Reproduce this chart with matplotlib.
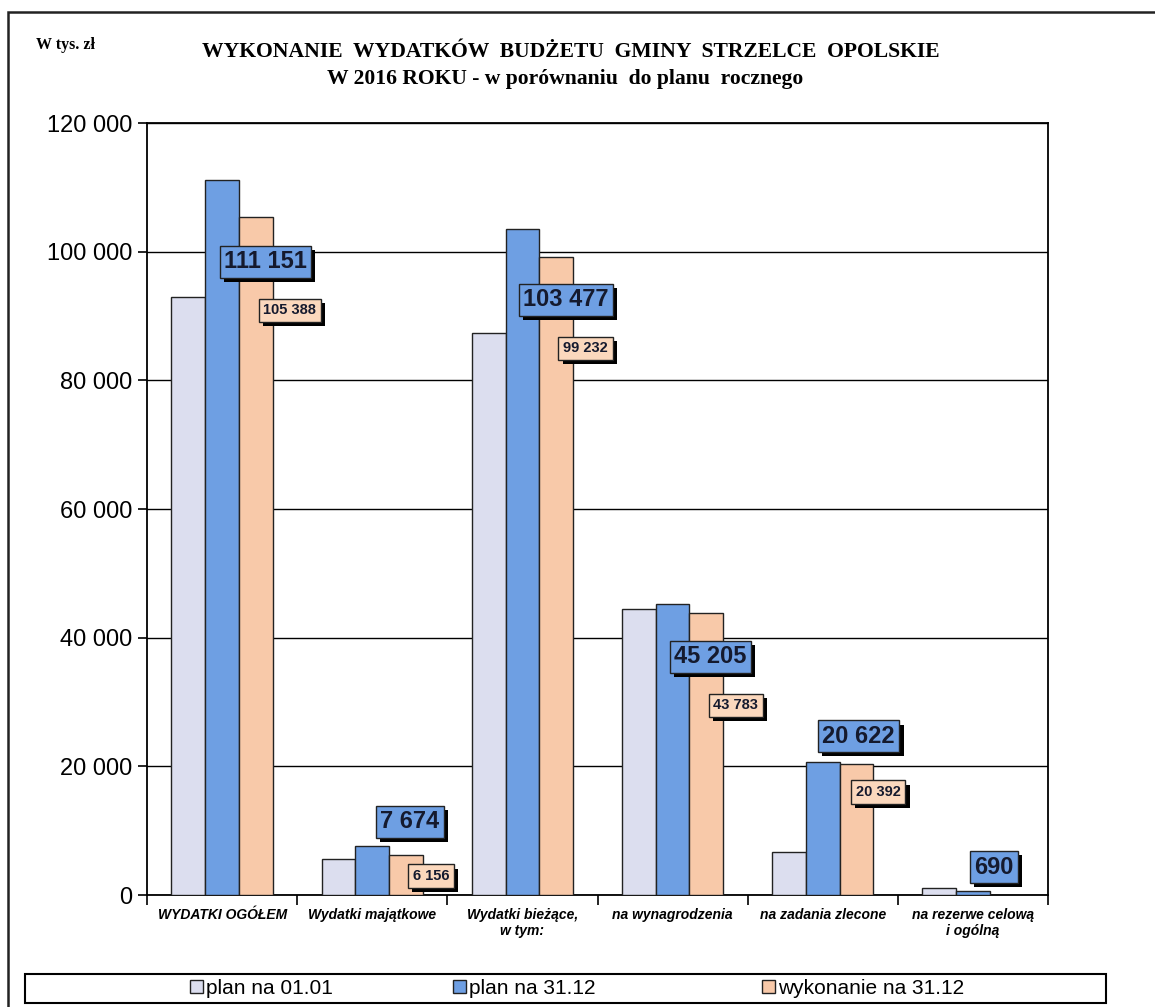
import numpy as np
import matplotlib.pyplot as plt
import matplotlib.patheffects as pe
from matplotlib.patches import Rectangle, Patch
from matplotlib.ticker import FuncFormatter

# data (w tys. zl)
categories = ['WYDATKI OGÓŁEM', 'Wydatki majątkowe', 'Wydatki bieżące,\nw tym:',
              'na wynagrodzenia', 'na zadania zlecone', 'na rezerwe celową\ni ogólną']
plan_0101 = [93000, 5600, 87400, 44500, 6700, 1050]
plan_3112 = [111151, 7674, 103477, 45205, 20622, 690]
wykonanie = [105388, 6156, 99232, 43783, 20392, 0]
series_names = ['plan na 01.01', 'plan na 31.12', 'wykonanie na 31.12']
y_ticks = [0, 20000, 40000, 60000, 80000, 100000, 120000]

# label placement (data coords), placed by hand like in the original
blue_lbl_pos = [(0.29, 98400), (1.25, 11350), (2.29, 92500), (3.25, 37000), (4.24, 24700), (5.14, 4350)]
orange_lbl_pos = [(0.45, 90900), (1.39, 2950), (2.42, 85000), (3.42, 29500), (4.37, 16000)]

c_gray = '#dcdeef'
c_blue = '#6e9fe3'
c_orange = '#f8c9a9'
colors = [c_gray, c_blue, c_orange]

fig = plt.figure(figsize=(11.55, 10.07), dpi=100)
ax = fig.add_axes([147/1155, 112/1007, 901/1155, 772/1007])

x = np.arange(len(categories))
w = 0.225
ax.bar(x - w, plan_0101, w, color=c_gray, edgecolor='#222222', lw=1.0, zorder=3)
ax.bar(x, plan_3112, w, color=c_blue, edgecolor='#222222', lw=1.0, zorder=3)
ax.bar(x + w, wykonanie, w, color=c_orange, edgecolor='#222222', lw=1.0, zorder=3)

ax.set_xlim(-0.5, len(categories) - 0.5)
ax.set_ylim(0, 120000)
ax.set_yticks(y_ticks)
ax.yaxis.set_major_formatter(FuncFormatter(lambda v, p: f'{int(v):,}'.replace(',', ' ')))
ax.tick_params(axis='y', labelsize=17, length=6.5, width=1.2, direction='out', pad=4)
for lbl in ax.get_yticklabels():
    lbl.set_family('Liberation Sans')
ax.grid(axis='y', color='black', lw=1.0, zorder=0)

ax.set_xticks(np.arange(len(categories) + 1) - 0.5)
ax.set_xticklabels([])
ax.tick_params(axis='x', length=7, width=1.2, direction='out')
for i, c in enumerate(categories):
    ax.text(i, -2000, c, ha='center', va='top', fontsize=10, fontweight='bold', style='italic',
            family='Liberation Sans', linespacing=1.15)

for sp in ax.spines.values():
    sp.set_linewidth(1.3)


def box_label(xy, txt, face, fs, pad):
    t = ax.text(xy[0], xy[1], txt, ha='center', va='center', fontsize=fs, fontweight='bold',
                family='Liberation Sans', color='#151a2e', zorder=6,
                bbox=dict(boxstyle=f'square,pad={pad}', fc=face, ec='#222222', lw=1.0))
    t.get_bbox_patch().set_path_effects([pe.SimplePatchShadow(offset=(3, -3), shadow_rgbFace='black', alpha=1.0),
                                         pe.Normal()])


for i, pos in enumerate(blue_lbl_pos):
    box_label(pos, f'{plan_3112[i]:,}'.replace(',', ' '), c_blue, 17, 0.18)
for i, pos in enumerate(orange_lbl_pos):
    box_label(pos, f'{wykonanie[i]:,}'.replace(',', ' '), '#fbd8bd', 10.5, 0.32)

# titles
fig.text(36/1155, 1 - 45/1007, 'W tys. zł', fontsize=11.5, fontweight='bold', family='Liberation Serif',
         ha='left', va='center')
fig.text(571/1155, 1 - 52/1007, 'WYKONANIE  WYDATKÓW  BUDŻETU  GMINY  STRZELCE  OPOLSKIE',
         fontsize=15.6, fontweight='bold', family='Liberation Serif', ha='center', va='center')
fig.text(565/1155, 1 - 79/1007, 'W 2016 ROKU - w porównaniu  do planu  rocznego',
         fontsize=15.6, fontweight='bold', family='Liberation Serif', ha='center', va='center')

# outer frame
fig.patches.append(Rectangle((8/1155, -0.01), 1.1, 1 - 12/1007 + 0.01, transform=fig.transFigure,
                             fill=False, ec='#222222', lw=1.8))

# legend: frame box + three entries at their own places
fig.patches.append(Rectangle((25/1155, 4/1007), 1081/1155, 29/1007, transform=fig.transFigure,
                             fill=False, ec='black', lw=1.5))
leg_x = [180/1155, 443/1155, 752/1155]
for i, name in enumerate(series_names):
    lg = fig.legend(handles=[Patch(fc=colors[i], ec='#222222', lw=1.0, label=name)],
                    loc='center left', bbox_to_anchor=(leg_x[i], 19/1007), frameon=False,
                    handlelength=0.6, handleheight=0.6, handletextpad=0.15, borderpad=0,
                    prop={'family': 'Liberation Sans', 'size': 15})

fig.savefig('out.png', dpi=100)
